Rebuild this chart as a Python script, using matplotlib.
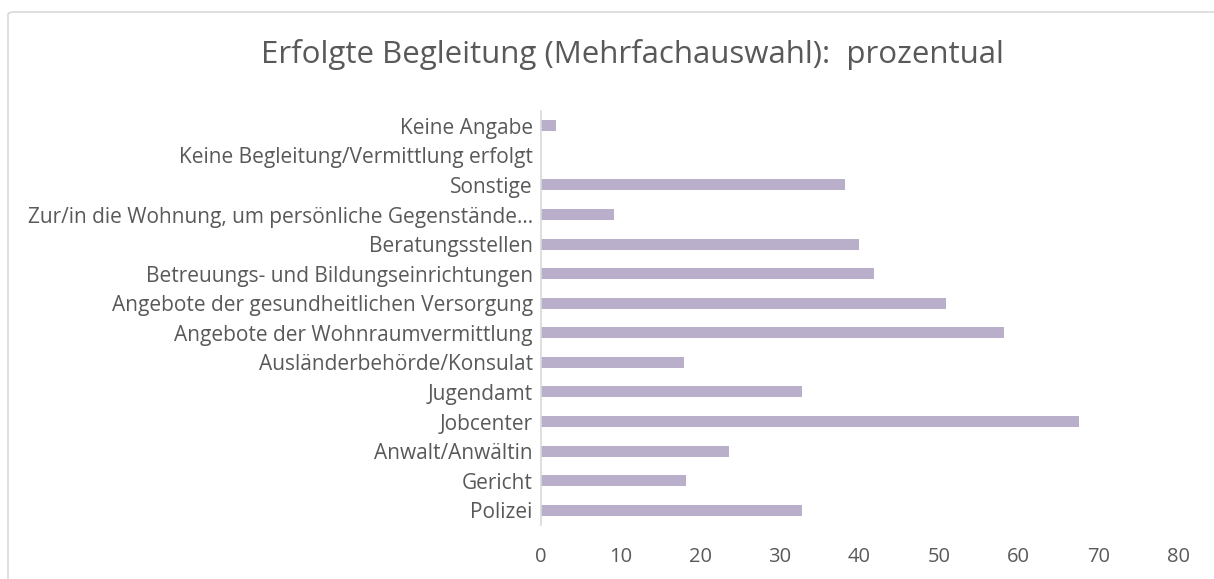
import matplotlib
matplotlib.use("Agg")
import matplotlib.pyplot as plt
from matplotlib.patches import FancyBboxPatch

plt.rcParams['font.family'] = ['Open Sans', 'DejaVu Sans']

# Kategorien von unten nach oben
kategorien = ['Polizei', 'Gericht', 'Anwalt/Anwältin', 'Jobcenter', 'Jugendamt',
              'Ausländerbehörde/Konsulat', 'Angebote der Wohnraumvermittlung',
              'Angebote der gesundheitlichen Versorgung',
              'Betreuungs- und Bildungseinrichtungen', 'Beratungsstellen',
              'Zur/in die Wohnung, um persönliche Gegenstände…', 'Sonstige',
              'Keine Begleitung/Vermittlung erfolgt', 'Keine Angabe']
werte = [32.8, 18.2, 23.6, 67.6, 32.8, 18.0, 58.2, 50.9, 41.8, 39.9, 9.2, 38.2, 0.0, 1.9]
x_ticks = [0, 10, 20, 30, 40, 50, 60, 70, 80]

grau = '#595959'

fig = plt.figure(figsize=(12.14, 5.79), dpi=100)
fig.patch.set_facecolor('white')

# Rahmen des Diagrammbereichs
rahmen = FancyBboxPatch((8 / 1214, -0.1), 1.2, 1 - 12 / 579 + 0.1,
                        boxstyle='round,pad=0,rounding_size=0.005',
                        transform=fig.transFigure, facecolor='none',
                        edgecolor='#D9D9D9', linewidth=1.2, zorder=-1)
fig.patches.append(rahmen)

ax = fig.add_axes([541 / 1214, 1 - 525 / 579, (1178 - 541) / 1214, (525 - 111) / 579])
ax.set_facecolor('none')

ax.barh(range(len(kategorien)), werte, height=0.37, color='#B9AFCB', zorder=2)

ax.set_xlim(0, 80)
ax.set_ylim(-0.5, len(kategorien) - 0.5)
ax.set_xticks(x_ticks)
ax.set_yticks(range(len(kategorien)))
ax.set_yticklabels(kategorien)
ax.tick_params(axis='both', length=0, labelsize=14.5, colors=grau)
ax.tick_params(axis='y', labelsize=15, pad=6)
ax.tick_params(axis='x', pad=16)

for s in ['top', 'right', 'bottom']:
    ax.spines[s].set_visible(False)
ax.spines['left'].set_color('#D9D9D9')
ax.spines['left'].set_linewidth(1.2)

fig.text(632 / 1214, 1 - 55 / 579, 'Erfolgte Begleitung (Mehrfachauswahl):  prozentual',
         ha='center', va='center', fontsize=22.5, color=grau)

fig.savefig('out.png', dpi=100, facecolor='white')
